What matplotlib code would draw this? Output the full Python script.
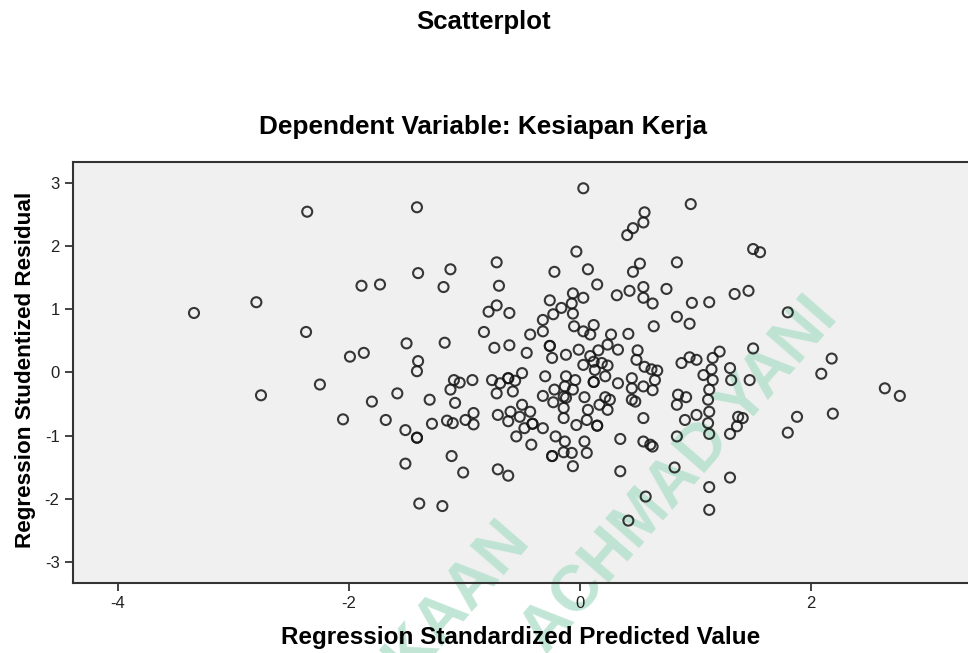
import numpy as np
import matplotlib
matplotlib.use("Agg")
import matplotlib.pyplot as plt

# Values (x = standardized predicted, y = studentized residual)
left_pred = [-3.34, -2.80, -2.36, -2.37, -2.76, -2.25, -1.41, -0.72, -1.12, -1.40,
             -1.89, -1.73, -1.18, -0.70, -0.72, -0.79, -0.61, -0.83, -1.50, -1.17,
             -0.74, -0.61, -1.99, -1.87, -1.40, -1.41, -2.05, -1.80, -1.58, -1.68,
             -1.51, -1.41, -1.41, -1.30, -1.28, -1.15, -1.10, -1.51, -1.11, -1.01,
             -1.39, -1.19, -1.09, -1.04, -1.12, -0.93, -1.08, -0.99, -0.92, -0.92,
             -0.76, -0.72, -0.69, -0.62, -0.62, -0.56, -0.58, -0.71, -0.62, -0.60,
             -0.55, -0.71, -0.62]
left_resid = [0.94, 1.11, 2.54, 0.64, -0.36, -0.19, 2.61, 1.74, 1.63, 1.57,
              1.37, 1.39, 1.35, 1.37, 1.06, 0.96, 0.94, 0.64, 0.46, 0.47,
              0.39, 0.43, 0.25, 0.31, 0.18, 0.02, -0.74, -0.46, -0.33, -0.75,
              -0.91, -1.03, -1.03, -0.43, -0.81, -0.76, -0.80, -1.44, -1.32, -1.58,
              -2.07, -2.11, -0.12, -0.16, -0.27, -0.12, -0.48, -0.75, -0.64, -0.82,
              -0.12, -0.33, -0.17, -0.09, -0.09, -0.13, -0.30, -0.67, -0.77, -0.62,
              -1.01, -1.53, -1.63]

center_pred = [0.15, 0.32, 0.43, -0.06, 0.03, -0.26, -0.07, -0.16, -0.23, -0.06,
               -0.32, -0.05, 0.12, 0.03, 0.09, -0.43, -0.32, 0.27, 0.42, -0.26,
               -0.26, 0.24, 0.33, -0.46, -0.12, -0.24, -0.01, 0.09, 0.16, 0.03,
               0.12, 0.19, 0.24, 0.13, -0.50, -0.30, -0.12, -0.04, 0.12, 0.12,
               0.22, 0.33, -0.13, -0.06, -0.22, -0.14, -0.32, -0.23, -0.12, 0.04,
               0.22, 0.26, 0.17, 0.24, 0.07, -0.14, -0.50, -0.43, -0.52, -0.41,
               -0.41, -0.14, 0.06, 0.15, 0.15, -0.03, -0.32, -0.48, -0.21, -0.13,
               0.04, 0.35, -0.42, -0.07, 0.06, -0.24, -0.24, -0.14, -0.06]
center_resid = [1.39, 1.22, 1.29, 1.25, 1.18, 1.14, 1.09, 1.02, 0.92, 0.93,
                0.83, 0.73, 0.75, 0.65, 0.60, 0.60, 0.65, 0.60, 0.61, 0.42,
                0.42, 0.44, 0.36, 0.31, 0.28, 0.23, 0.36, 0.26, 0.35, 0.12,
                0.17, 0.15, 0.11, 0.04, -0.01, -0.06, -0.06, -0.12, -0.15, -0.15,
                -0.06, -0.17, -0.22, -0.27, -0.27, -0.38, -0.37, -0.47, -0.40, -0.39,
                -0.39, -0.43, -0.51, -0.59, -0.59, -0.56, -0.51, -0.62, -0.70, -0.81,
                -0.81, -0.72, -0.75, -0.84, -0.84, -0.83, -0.88, -0.88, -1.01, -1.09,
                -1.09, -1.05, -1.14, -1.27, -1.27, -1.32, -1.32, -1.26, -1.48]

mid_pred = [0.55, 0.55, 0.63, 0.75, 0.97, 1.12, 1.34, 1.46, 0.84, 0.95,
            0.64, 0.50, 0.49, 0.56, 0.62, 0.67, 0.65, 0.63, 0.55, 0.45,
            0.45, 0.45, 0.48, 0.88, 0.95, 1.01, 1.21, 1.15, 1.14, 1.07,
            1.15, 1.12, 1.11, 1.12, 1.11, 1.12, 1.30, 1.31, 1.47, 0.85,
            0.84, 0.92, 1.01, 0.91, 0.55, 1.37, 1.41, 1.36, 1.30, 0.84,
            0.55, 0.61, 0.63, 0.82]
mid_resid = [1.35, 1.18, 1.09, 1.32, 1.10, 1.11, 1.24, 1.29, 0.88, 0.77,
             0.73, 0.35, 0.20, 0.09, 0.05, 0.03, -0.12, -0.28, -0.22, -0.09,
             -0.25, -0.43, -0.46, 0.15, 0.24, 0.20, 0.33, 0.23, 0.05, -0.04,
             -0.12, -0.27, -0.43, -0.62, -0.80, -0.97, 0.07, -0.12, -0.12, -0.35,
             -0.51, -0.39, -0.67, -0.75, -0.72, -0.70, -0.72, -0.85, -0.97, -1.01,
             -1.09, -1.14, -1.17, -1.50]

top_pred = [0.03, 0.96, 0.56, 0.55, 0.46, 0.41, -0.03, 0.84, -0.22, 0.07, 0.52, 0.46]
top_resid = [2.91, 2.66, 2.53, 2.37, 2.28, 2.17, 1.91, 1.74, 1.59, 1.63, 1.72, 1.59]

right_pred = [1.50, 1.56, 1.80, 1.50, 2.18, 2.09, 2.64, 2.77, 1.88, 2.19, 1.80]
right_resid = [1.95, 1.90, 0.95, 0.38, 0.22, -0.02, -0.25, -0.37, -0.70, -0.65, -0.95]

low_pred = [0.35, 0.57, 0.42, 1.12, 1.12, 1.30]
low_resid = [-1.56, -1.96, -2.34, -1.81, -2.17, -1.66]

x_ticks = [-4, -2, 0, 2]
y_ticks = [-3, -2, -1, 0, 1, 2, 3]

plt.rcParams['font.family'] = ['Liberation Sans', 'DejaVu Sans']
plt.rcParams['axes.unicode_minus'] = False

pred = np.concatenate([left_pred, center_pred, mid_pred, top_pred, right_pred, low_pred])
resid = np.concatenate([left_resid, center_resid, mid_resid, top_resid, right_resid, low_resid])

fig = plt.figure(figsize=(9.68, 6.53), dpi=100)
ax = fig.add_axes([0.0751, 0.1077, 0.9249, 0.6447])
ax.set_facecolor('#f0f0f0')

ax.scatter(pred, resid, s=52, facecolors='none', edgecolors='#151515',
           linewidths=1.5, alpha=0.85, zorder=3)

# library watermark, faint, behind the points
wm = dict(transform=fig.transFigure, rotation=49, rotation_mode='anchor',
          fontsize=46, fontweight='bold', color='#b3e0cc', alpha=0.8,
          zorder=1, clip_on=False)
ax.text(0.7025, 0.271, 'ACHMAD YANI', ha='center', va='center', **wm)
ax.text(0.535, 0.19, 'PERPUSTAKAAN', ha='right', va='center', **wm)

ax.set_xlim(-4.39, 3.36)
ax.set_ylim(-3.32, 3.33)
ax.set_xticks(x_ticks)
ax.set_yticks(y_ticks)
ax.tick_params(direction='out', length=6, width=1.2, labelsize=12, colors='#222222')

for side in ['left', 'bottom', 'top']:
    ax.spines[side].set_linewidth(1.5)
    ax.spines[side].set_color('#333333')
ax.spines['right'].set_visible(False)

fig.text(0.499, 0.966, 'Scatterplot', ha='center', va='center',
         fontsize=18.5, fontweight='bold')
fig.text(0.499, 0.8055, 'Dependent Variable: Kesiapan Kerja', ha='center', va='center',
         fontsize=18.8, fontweight='bold')
fig.text(0.538, 0.023, 'Regression Standardized Predicted Value', ha='center', va='center',
         fontsize=17.5, fontweight='bold')
fig.text(0.026, 0.433, 'Regression Studentized Residual', ha='center', va='center',
         rotation=90, fontsize=16.2, fontweight='bold')

fig.savefig('out.png', dpi=100)
